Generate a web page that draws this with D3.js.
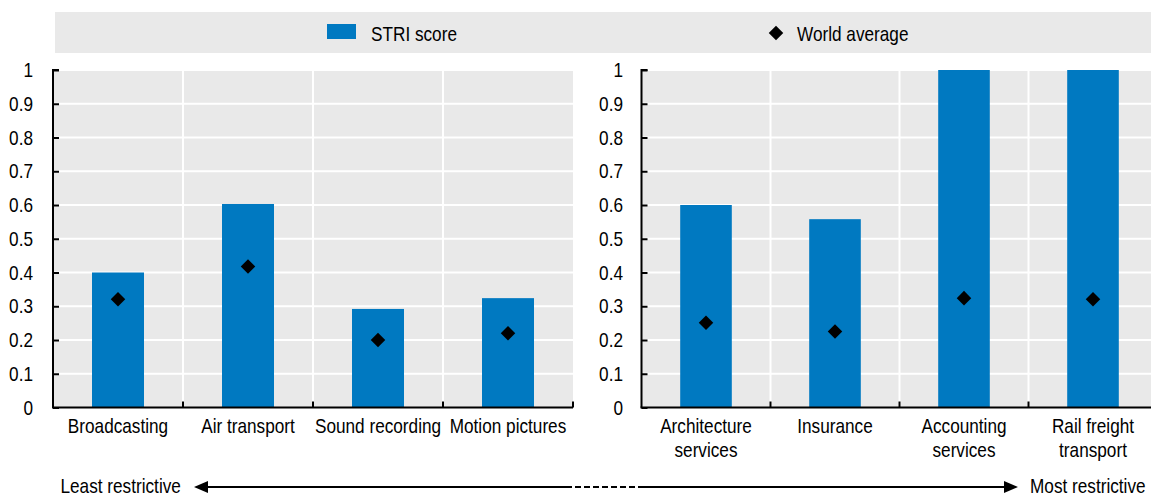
<!DOCTYPE html>
<html>
<head>
<meta charset="utf-8">
<script src="https://cdn.jsdelivr.net/npm/d3@7"></script>
<style>
  html, body { margin: 0; padding: 0; background: #fff; }
  svg { display: block; }
  text { font-family: "Liberation Sans Narrow", "Arial Narrow", "Liberation Sans", Arial, sans-serif; fill: #000; }
</style>
</head>
<body>
<svg id="chart" width="1151" height="493"></svg>
<script>
// ---- data ----
const leftCategories = ["Broadcasting", "Air transport", "Sound recording", "Motion pictures"];
const leftScores = [0.40, 0.603, 0.292, 0.324];
const leftWorld = [0.321, 0.418, 0.200, 0.220];

const rightCategories = [["Architecture", "services"], ["Insurance"], ["Accounting", "services"], ["Rail freight", "transport"]];
const rightScores = [0.60, 0.558, 1.0, 1.0];
const rightWorld = [0.251, 0.225, 0.324, 0.321];

const yTicks = [0, 0.1, 0.2, 0.3, 0.4, 0.5, 0.6, 0.7, 0.8, 0.9, 1];
const yTickLabels = ["0", "0.1", "0.2", "0.3", "0.4", "0.5", "0.6", "0.7", "0.8", "0.9", "1"];
const legendLabels = ["STRI score", "World average"];
const arrowLabels = ["Least restrictive", "Most restrictive"];

// ---- styling ----
const BAR = "#0079c1";
const BG = "#e9e9e9";
const FS = 20;
const SX = 0.86; // emulate a narrow typeface
const DIA = 135;

const svg = d3.select("#chart");
const W = 1151, H = 493;

// condensed text helper
function ctext(parent, x, y, lines, anchor, lineH) {
  const arr = Array.isArray(lines) ? lines : [lines];
  const t = parent.append("text")
    .attr("transform", `translate(${x},${y}) scale(${SX},1)`)
    .attr("font-size", FS)
    .attr("text-anchor", anchor || "start");
  arr.forEach((ln, j) => {
    t.append("tspan").attr("x", 0).attr("y", j * (lineH || 24)).text(ln);
  });
  return t;
}

// legend
svg.append("rect").attr("x", 55).attr("y", 12).attr("width", W - 55).attr("height", 41).attr("fill", BG);
svg.append("rect").attr("x", 327).attr("y", 24).attr("width", 29).attr("height", 15).attr("fill", BAR);
ctext(svg, 371, 40.5, legendLabels[0]);
svg.append("path").attr("d", d3.symbol(d3.symbolDiamond2, DIA)()).attr("transform", "translate(776,33)").attr("fill", "#000");
ctext(svg, 797, 40.5, legendLabels[1]);

const y = d3.scaleLinear().domain([0, 1]).range([407.5, 70]);

function panel(x0, x1, cats, scores, world, labelRight) {
  const g = svg.append("g");
  const keys = cats.map((c, i) => i);
  const x = d3.scaleBand().domain(keys).range([x0, x1]).paddingInner(0).paddingOuter(0);
  // background
  g.append("rect").attr("x", x0).attr("y", y(1)).attr("width", x1 - x0).attr("height", y(0) - y(1)).attr("fill", BG);
  // horizontal grid
  g.selectAll(".hg").data(yTicks.slice(1)).join("line")
    .attr("x1", x0).attr("x2", x1).attr("y1", d => y(d)).attr("y2", d => y(d))
    .attr("stroke", "#fff").attr("stroke-width", 2);
  // vertical grid
  g.selectAll(".vg").data(keys.slice(1)).join("line")
    .attr("x1", d => x(d)).attr("x2", d => x(d)).attr("y1", y(1)).attr("y2", y(0))
    .attr("stroke", "#fff").attr("stroke-width", 2);
  // bars
  const bw = x.bandwidth() * 0.4;
  g.selectAll(".bar").data(scores).join("rect")
    .attr("x", (d, i) => x(i) + x.bandwidth() / 2 - bw / 2)
    .attr("width", bw)
    .attr("y", d => y(d))
    .attr("height", d => y(0) - y(d))
    .attr("fill", BAR);
  // diamonds
  g.selectAll(".dia").data(world).join("path")
    .attr("d", d3.symbol(d3.symbolDiamond2, DIA)())
    .attr("transform", (d, i) => `translate(${x(i) + x.bandwidth() / 2},${y(d)})`)
    .attr("fill", "#000");
  // y axis
  const ya = d3.axisRight(y).tickValues(yTicks).tickSize(6).tickFormat("");
  const yg = g.append("g").attr("transform", `translate(${x0},0)`).call(ya);
  yg.select(".domain").attr("stroke", "#000").attr("stroke-width", 2).attr("d", `M6,${y(1)}H0V${y(0)}`);
  yg.selectAll(".tick line").attr("stroke", "#000").attr("stroke-width", 2);
  yTicks.forEach((d, i) => ctext(g, labelRight, y(d) + 7, yTickLabels[i], "end"));
  // x axis
  g.append("line").attr("x1", x0 - 1).attr("x2", x1).attr("y1", y(0)).attr("y2", y(0))
    .attr("stroke", "#000").attr("stroke-width", 2);
  g.selectAll(".xt").data(keys.slice(1).map(k => x(k)).concat([x1])).join("line")
    .attr("x1", d => d).attr("x2", d => d).attr("y1", y(0)).attr("y2", y(0) - 6)
    .attr("stroke", "#000").attr("stroke-width", 2);
  // category labels
  cats.forEach((c, i) => ctext(g, x(i) + x.bandwidth() / 2, 433, c, "middle", 24));
}

panel(53, 573, leftCategories, leftScores, leftWorld, 33);
panel(641.5, 1157.5, rightCategories, rightScores, rightWorld, 623);

// bottom arrow
const ay = 487;
svg.append("line").attr("x1", 205).attr("x2", 566).attr("y1", ay).attr("y2", ay).attr("stroke", "#000").attr("stroke-width", 2);
svg.append("line").attr("x1", 566).attr("x2", 640).attr("y1", ay).attr("y2", ay).attr("stroke", "#000").attr("stroke-width", 2).attr("stroke-dasharray", "6,3");
svg.append("line").attr("x1", 640).attr("x2", 1005).attr("y1", ay).attr("y2", ay).attr("stroke", "#000").attr("stroke-width", 2);
svg.append("path").attr("d", `M194,${ay}L208,${ay - 6}L208,${ay + 6}Z`).attr("fill", "#000");
svg.append("path").attr("d", `M1018,${ay}L1004,${ay - 6}L1004,${ay + 6}Z`).attr("fill", "#000");
ctext(svg, 60.5, 492.5, arrowLabels[0]);
ctext(svg, 1030, 492.5, arrowLabels[1]);
</script>
</body>
</html>
